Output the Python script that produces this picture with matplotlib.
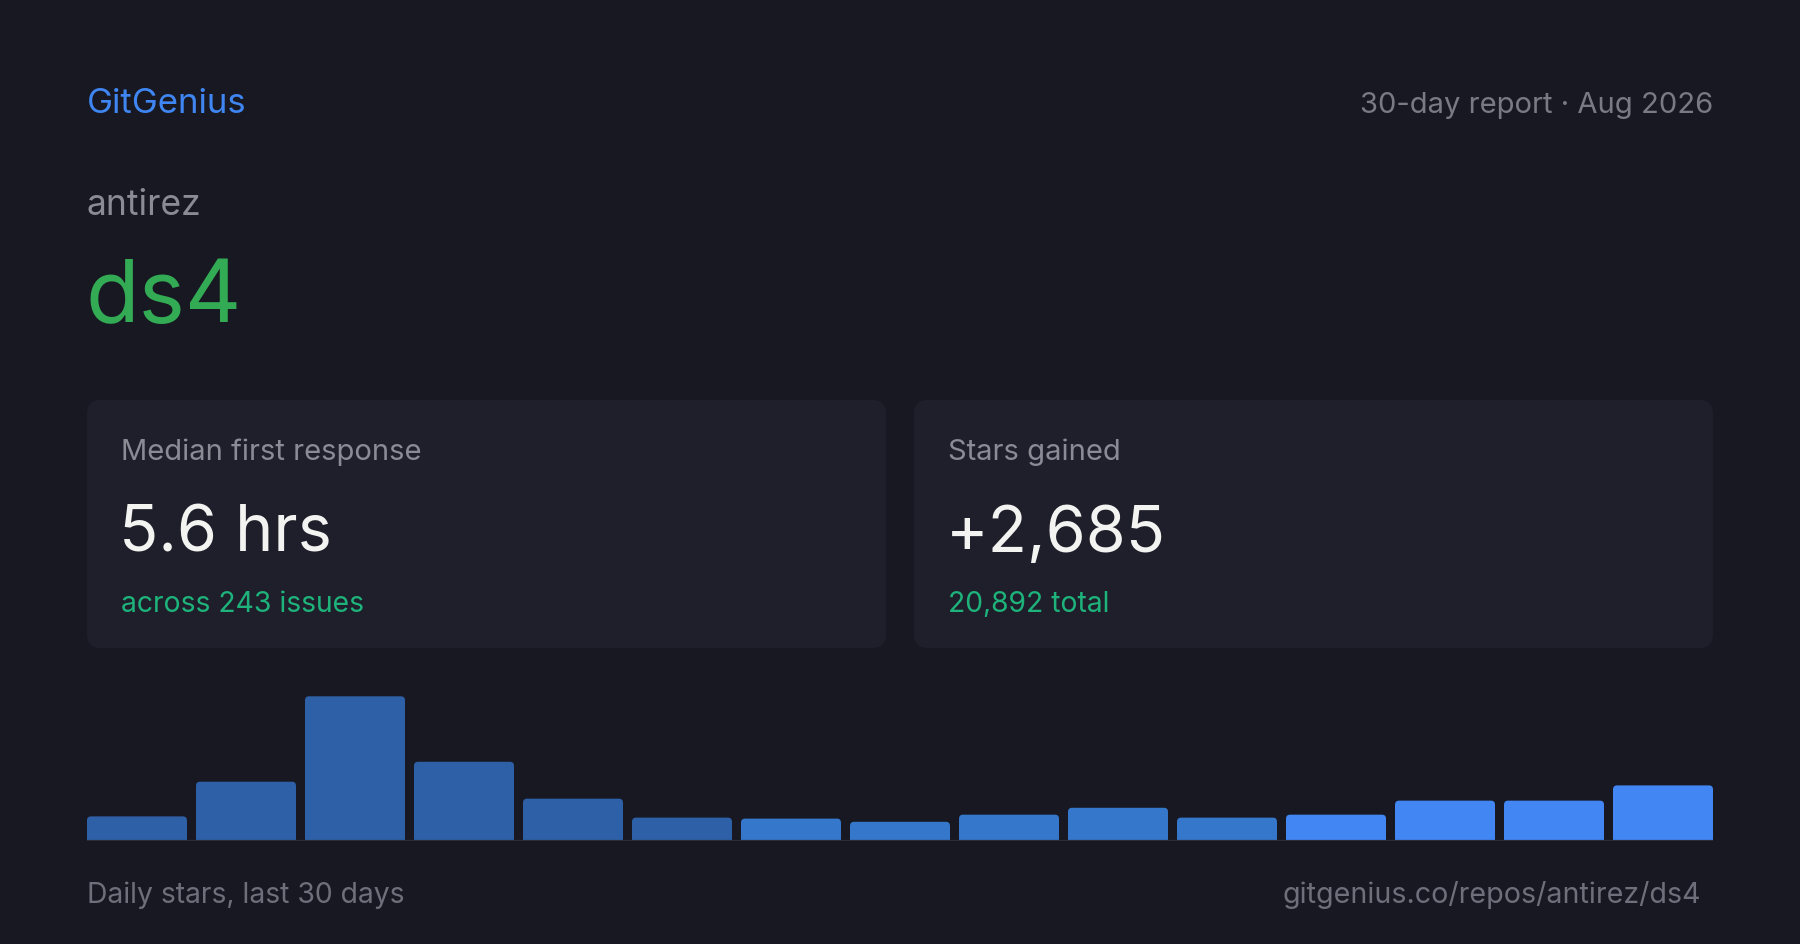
import numpy as np
import matplotlib.pyplot as plt
from matplotlib.patches import FancyBboxPatch

# ── data ────────────────────────────────────────────────────────────────
BRAND = "GitGenius"
PERIOD = "30-day report · Aug 2026"
OWNER = "antirez"
REPO = "ds4"

CARD_LABELS = ["Median first response", "Stars gained"]
CARD_VALUES = ["5.6 hrs", "+2,685"]
CARD_NOTES = ["across 243 issues", "20,892 total"]

# stars per 2-day bucket, oldest first
daily_stars = [100, 241, 588, 322, 172, 95, 91, 78, 107, 135, 95, 107, 164, 164, 226]
bar_shade = [0, 0, 0, 0, 0, 0, 1, 1, 1, 1, 1, 2, 2, 2, 2]

FOOT_LEFT = "Daily stars, last 30 days"
FOOT_RIGHT = "gitgenius.co/repos/antirez/ds4"

# ── style ───────────────────────────────────────────────────────────────
BG = "#171821"
CARD = "#1f1f2b"
GRAY = "#8a8b94"
DIM = "#6e6f7a"
BLUE = "#3f86f2"
GREEN = "#33ab55"
TEAL = "#1db37b"
WHITE = "#f3f3f1"
SHADES = ["#2e60a8", "#3577cb", "#4286f4"]

plt.rcParams["font.family"] = ["Inter", "DejaVu Sans"]

W, H = 1800, 945
fig = plt.figure(figsize=(W / 100, H / 100), dpi=100, facecolor=BG)

# background layer in pixel units (y grows downwards)
bg = fig.add_axes([0, 0, 1, 1])
bg.set_xlim(0, W)
bg.set_ylim(H, 0)
bg.axis("off")
bg.set_facecolor(BG)

bg.text(87, 113, BRAND, color=BLUE, fontsize=25, va="baseline", ha="left")
bg.text(1713, 113, PERIOD, color="#797a84", fontsize=21, va="baseline", ha="right")
bg.text(87, 215, OWNER, color=GRAY, fontsize=25.5, va="baseline", ha="left")
bg.text(85, 322, REPO, color=GREEN, fontsize=63, va="baseline", ha="left")

card_x = [87, 914]
card_w = 799
for i in range(2):
    x0 = card_x[i]
    bg.add_patch(FancyBboxPatch((x0, 401), card_w, 248,
                                boxstyle="round,pad=0,rounding_size=14",
                                facecolor=CARD, edgecolor="none"))
    bg.text(x0 + 34, 460, CARD_LABELS[i], color=GRAY, fontsize=21, va="baseline")
    bg.text(x0 + 32, 552, CARD_VALUES[i], color=WHITE, fontsize=46.5, va="baseline")
    bg.text(x0 + 34, 612, CARD_NOTES[i], color=TEAL, fontsize=20.4, va="baseline")

bg.text(87, 903, FOOT_LEFT, color=DIM, fontsize=20.4, va="baseline", ha="left")
bg.text(1701, 903, FOOT_RIGHT, color=DIM, fontsize=20.6, va="baseline", ha="right")

# ── bar chart ───────────────────────────────────────────────────────────
left_px, right_px, base_px = 87, 1713, 842
ax_h = 160
ax = fig.add_axes([left_px / W, (H - base_px) / H, (right_px - left_px) / W, ax_h / H])
ax.set_facecolor("none")
ax.axis("off")

n = len(daily_stars)
width = 0.917
xs = np.arange(n)
ax.set_xlim(-width / 2, n - 1 + width / 2)
ymax = max(daily_stars) * ax_h / 144.7
ax.set_ylim(0, ymax)

px_x = (right_px - left_px) / (n - 1 + width)  # pixels per x unit
px_y = ax_h / ymax                              # pixels per y unit
r_px = 4
r_x = r_px / px_x
aspect = px_x / px_y

colors = [SHADES[s] for s in bar_shade]
bars = ax.bar(xs, [v - r_px / px_y for v in daily_stars], width=width,
              color=colors, linewidth=0)
for b, v, c in zip(bars, daily_stars, colors):
    ax.add_patch(FancyBboxPatch((b.get_x(), 0), b.get_width(), v,
                                boxstyle=f"round,pad=0,rounding_size={r_x}",
                                mutation_aspect=aspect,
                                facecolor=c, edgecolor="none"))

ax.axhline(0, color="#2c2d3a", linewidth=1.6, zorder=5)

fig.savefig("out.png", dpi=100, facecolor=BG)
